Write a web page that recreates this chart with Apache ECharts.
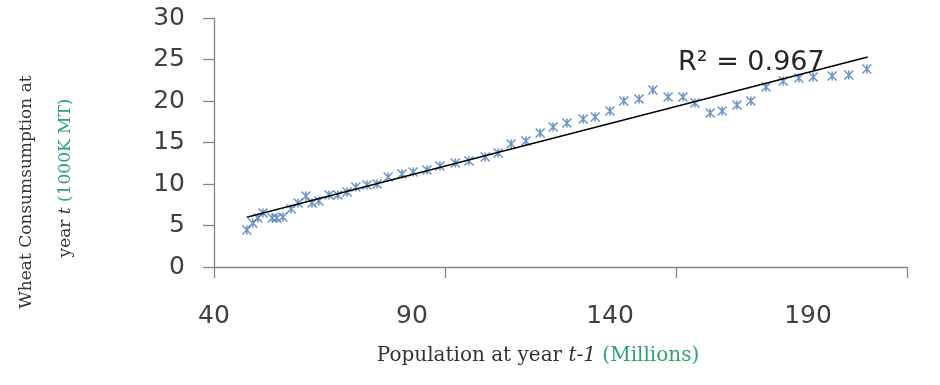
<!DOCTYPE html>
<html>
<head>
<meta charset="utf-8">
<script src="https://cdn.jsdelivr.net/npm/echarts@6/dist/echarts.min.js"></script>
<style>html,body{margin:0;padding:0;background:#fff;}#c{width:940px;height:385px;}</style>
</head>
<body>
<div id="c"></div>
<script>
// Population at year t-1 (Millions)
var population = [47.1,48.4,49.5,50.6,52.6,53.6,54.9,56.7,58.2,59.9,61.2,62.7,64.9,66.8,68.8,70.7,73.1,75.3,77.7,80.7,83.1,86.1,88.9,92.2,95.2,98.7,101.5,104.3,107.5,110.6,113.4,116.4,119.9,122.5,125.7,128.7,132.0,135.0,138.3,141.5,144.1,147.4,150.0,153.2,156.2,159.5,163.2,166.6,169.7,173.8,177.4,181.3];
// Wheat consumption at year t (1000K MT)
var consumption = [4.46,5.30,5.90,6.51,5.90,5.90,6.02,6.99,7.71,8.55,7.71,7.95,8.67,8.67,9.04,9.64,9.88,10.0,10.84,11.2,11.45,11.69,12.17,12.53,12.77,13.25,13.73,14.82,15.18,16.14,16.87,17.35,17.83,18.07,18.8,20.0,20.24,21.33,20.48,20.48,19.76,18.55,18.8,19.52,20.0,21.69,22.41,22.77,22.89,23.01,23.13,23.86];
// Linear trend line end points
var trendX = [47.1, 181.5];
var trendY = [6.0, 25.3];
var xTickLabels = [40, 90, 140, 190];
var yTickLabels = [0, 5, 10, 15, 20, 25, 30];
var r2Text = 'R\u00B2 = 0.967';

var points = population.map(function (x, i) { return [x, consumption[i]]; });
var trend = trendX.map(function (x, i) { return [x, trendY[i]]; });

var chart = echarts.init(document.getElementById('c'), null, {renderer: 'canvas'});
var axisColor = '#868686';
var green = '#2fa36b';
var serif = 'DejaVu Serif';
var txt = '#333333';
chart.setOption({
  animation: false,
  backgroundColor: '#fff',
  grid: {left: 214, right: 33, top: 18, bottom: 118},
  xAxis: [{
    type: 'value', min: 40, max: 190, interval: 50,
    axisLine: {show: true, lineStyle: {color: axisColor, width: 1.3}},
    axisTick: {show: true, inside: false, length: 11, lineStyle: {color: axisColor, width: 1.3}},
    axisLabel: {show: false},
    splitLine: {show: false}
  }, {
    type: 'value', min: 40, max: 215, interval: 50, position: 'bottom',
    axisLine: {show: false}, axisTick: {show: false}, splitLine: {show: false},
    axisLabel: {
      show: true, margin: 37, color: '#404040', fontFamily: 'DejaVu Sans', fontSize: 25,
      formatter: function (v) { return xTickLabels.indexOf(v) >= 0 ? String(v) : ''; }
    }
  }],
  yAxis: {
    type: 'value', min: 0, max: 30, interval: 5,
    axisLine: {show: true, lineStyle: {color: axisColor, width: 1.3}},
    axisTick: {show: true, inside: false, length: 11, lineStyle: {color: axisColor, width: 1.3}},
    axisLabel: {
      margin: 29, color: '#404040', fontFamily: 'DejaVu Sans', fontSize: 25,
      formatter: function (v) { return yTickLabels.indexOf(v) >= 0 ? String(v) : ''; }
    },
    splitLine: {show: false}
  },
  series: [{
    type: 'line', xAxisIndex: 0, data: trend, symbol: 'none',
    lineStyle: {color: '#000', width: 1.4}, z: 3
  }, {
    type: 'scatter', xAxisIndex: 0, data: points,
    symbol: 'path://M0,0L10,10M10,0L0,10M5,0L5,10',
    symbolSize: 9,
    itemStyle: {color: 'rgba(0,0,0,0)', borderColor: '#4a7ab8', borderWidth: 1.6},
    z: 2
  }],
  graphic: [{
    type: 'text', left: 678, top: 49,
    style: {text: r2Text, font: '27px "DejaVu Sans"', fill: '#262626'}
  }, {
    type: 'text', x: 27, y: 192, rotation: Math.PI / 2,
    style: {
      text: 'Wheat Consumsumption at', font: '17px "DejaVu Serif"', fill: txt,
      align: 'center', verticalAlign: 'middle'
    }
  }, {
    type: 'text', x: 66, y: 178, rotation: Math.PI / 2,
    style: {
      text: '{n|year }{i|t}{n| }{g|(1000K MT)}', align: 'center', verticalAlign: 'middle',
      rich: {
        n: {fontFamily: serif, fontSize: 17, fill: txt, color: txt},
        i: {fontFamily: serif, fontSize: 17, fontStyle: 'italic', fill: txt, color: txt},
        g: {fontFamily: serif, fontSize: 17, fill: green, color: green}
      }
    }
  }, {
    type: 'text', x: 538, y: 356,
    style: {
      text: '{n|Population at year }{i|t-1}{n| }{g|(Millions)}', align: 'center', verticalAlign: 'middle',
      rich: {
        n: {fontFamily: serif, fontSize: 20, fill: txt, color: txt},
        i: {fontFamily: serif, fontSize: 20, fontStyle: 'italic', fill: txt, color: txt},
        g: {fontFamily: serif, fontSize: 20, fill: green, color: green}
      }
    }
  }]
});
</script>
</body>
</html>
